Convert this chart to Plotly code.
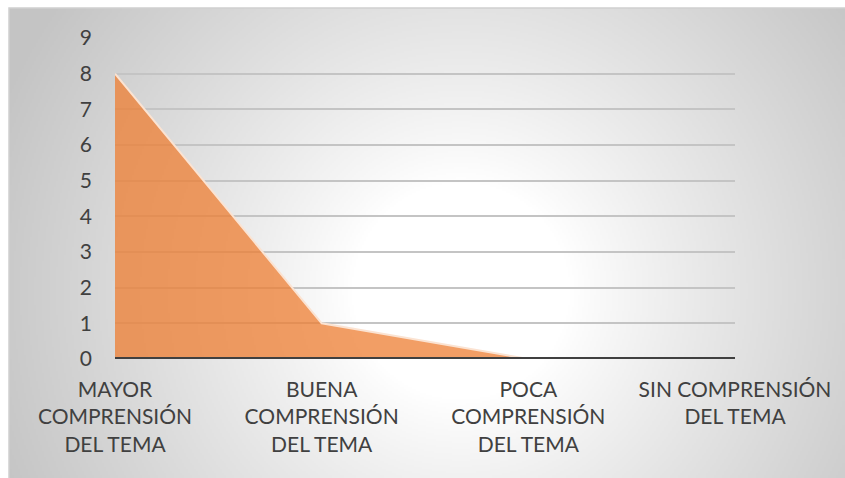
import base64
import struct
import zlib

import numpy as np
import plotly.graph_objects as go

# Data
categories = [
    "MAYOR<br>COMPRENSIÓN<br>DEL TEMA",
    "BUENA<br>COMPRENSIÓN<br>DEL TEMA",
    "POCA<br>COMPRENSIÓN<br>DEL TEMA",
    "SIN COMPRENSIÓN<br>DEL TEMA",
]
values = [8, 1, 0, 0]
y_ticks = list(range(0, 10))

W, H = 845, 478
L, R, T, B = 115, 110, 38, 119
PW, PH = W - L - R, H - T - B


def radial_png(w, h, cx, cy, r0, r1, lo):
    """Build a grey-to-white radial gradient as a PNG data URI."""
    yy, xx = np.mgrid[0:h, 0:w].astype(float)
    d = np.hypot(xx - cx, yy - cy)
    t = np.clip((d - r0) / (r1 - r0), 0, 1) ** 0.9
    v = (255 - t * (255 - lo)).astype(np.uint8)
    raw = b"".join(b"\x00" + bytes(np.stack([v[i]] * 3, axis=1).ravel()) for i in range(h))

    def chunk(tag, data):
        c = struct.pack(">I", len(data)) + tag + data
        return c + struct.pack(">I", zlib.crc32(tag + data) & 0xFFFFFFFF)

    png = b"\x89PNG\r\n\x1a\n"
    png += chunk(b"IHDR", struct.pack(">IIBBBBB", w, h, 8, 2, 0, 0, 0))
    png += chunk(b"IDAT", zlib.compress(raw, 9))
    png += chunk(b"IEND", b"")
    return "data:image/png;base64," + base64.b64encode(png).decode()


# panel bounds in pixels (x0, y0, x1, y1)
px0, py0, px1, py1 = 9, 8, 845, 478
scale = 2
bg = radial_png(
    (px1 - px0) // scale, (py1 - py0) // scale,
    (460 - px0) / scale, (290 - py0) / scale,
    110 / scale, 500 / scale, 196,
)


def to_paper_x(px):
    return (px - L) / PW


def to_paper_y(py):
    return (H - B - py) / PH


fig = go.Figure()

fig.add_trace(go.Scatter(
    x=categories, y=values,
    mode="lines",
    fill="tozeroy",
    fillcolor="rgba(237,125,49,0.75)",
    line=dict(color="rgba(0,0,0,0)", width=0),
    hoverinfo="skip",
    showlegend=False,
))
fig.add_trace(go.Scatter(
    x=categories, y=values,
    mode="lines",
    line=dict(color="#FBE3D2", width=2),
    showlegend=False,
))

fig.add_layout_image(dict(
    source=bg,
    xref="paper", yref="paper",
    x=to_paper_x(px0), y=to_paper_y(py0),
    sizex=to_paper_x(px1) - to_paper_x(px0),
    sizey=to_paper_y(py0) - to_paper_y(py1),
    xanchor="left", yanchor="top",
    sizing="stretch",
    layer="below",
))

fig.add_shape(
    type="rect", xref="paper", yref="paper",
    x0=to_paper_x(px0), x1=to_paper_x(px1 + 2),
    y0=to_paper_y(py1 + 2), y1=to_paper_y(py0),
    line=dict(color="#D0D0D0", width=1.5),
    layer="below",
)

# dark category axis line along zero
fig.add_shape(
    type="line", xref="paper", yref="y",
    x0=0, x1=1, y0=0, y1=0,
    line=dict(color="#404040", width=4),
    layer="above",
)

font = dict(family="Lato, 'Open Sans', sans-serif", size=21, color="#404040")

fig.update_layout(
    width=W, height=H,
    margin=dict(l=L, r=R, t=T, b=B),
    paper_bgcolor="white",
    plot_bgcolor="rgba(0,0,0,0)",
    font=font,
    xaxis=dict(
        type="category",
        range=[0, len(categories) - 1],
        showgrid=False,
        zeroline=False,
        showline=False,
        ticks="",
        ticklabelstandoff=16,
        tickfont=font,
        fixedrange=True,
    ),
    yaxis=dict(
        range=[0, 9],
        tickvals=y_ticks,
        showgrid=True,
        gridcolor="#C4C4C4",
        gridwidth=1.5,
        zeroline=False,
        showline=False,
        ticks="",
        ticklabelstandoff=22,
        tickfont=font,
        fixedrange=True,
    ),
)

fig.write_html("out.html")
